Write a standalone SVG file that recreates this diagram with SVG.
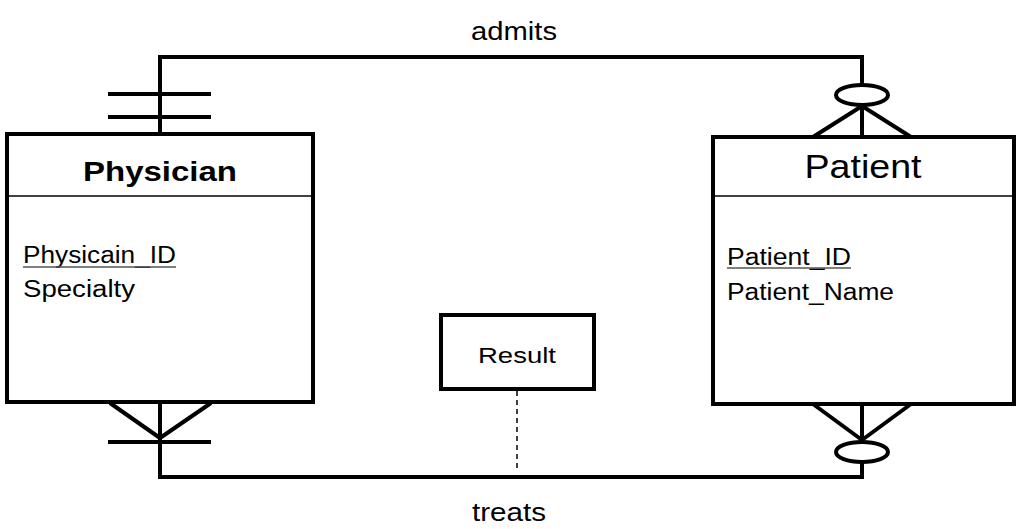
<svg xmlns="http://www.w3.org/2000/svg" width="1024" height="529" viewBox="0 0 1024 529">
<style>
.box{fill:#fff;stroke:#000;stroke-width:4}
.div{stroke:#000;stroke-width:1.5}
.ln{fill:none;stroke:#000;stroke-width:4}
.t{font-family:"Liberation Sans",Arial,sans-serif;fill:#000}
</style>
<rect width="1024" height="529" fill="#fff"/>
<g id="connectors">
<g id="admits">
<polyline class="ln" points="160,134 160,57 862,57 862,85"/>
<line class="ln" x1="108" y1="94" x2="211" y2="94"/>
<line class="ln" x1="108" y1="117" x2="211" y2="117"/>
<ellipse class="ln" cx="862" cy="95" rx="26" ry="10"/>
<line class="ln" x1="862" y1="105" x2="862" y2="137"/>
<line class="ln" x1="862" y1="106" x2="813" y2="137"/>
<line class="ln" x1="862" y1="106" x2="911" y2="137"/>
<text class="t" x="514" y="40" font-size="25" text-anchor="middle" textLength="86" lengthAdjust="spacingAndGlyphs">admits</text>
</g>
<g id="treats">
<polyline class="ln" points="160,402 160,477 862,477 862,462"/>
<line class="ln" x1="108" y1="442" x2="211" y2="442"/>
<line class="ln" x1="110" y1="403" x2="160" y2="438"/>
<line class="ln" x1="211" y1="403" x2="160" y2="438"/>
<ellipse class="ln" cx="862" cy="452" rx="26" ry="10"/>
<line class="ln" x1="862" y1="404" x2="862" y2="442"/>
<line class="ln" x1="813" y1="404" x2="862" y2="440"/>
<line class="ln" x1="911" y1="404" x2="862" y2="440"/>
<line x1="517" y1="391" x2="517" y2="470" stroke="#000" stroke-width="1.5" stroke-dasharray="5,4"/>
<text class="t" x="509" y="521" font-size="25" text-anchor="middle" textLength="74" lengthAdjust="spacingAndGlyphs">treats</text>
</g>
</g>
<g id="physician">
<rect class="box" x="7" y="134" width="306" height="268"/>
<line class="div" x1="7" y1="196" x2="313" y2="196"/>
<text class="t" x="160" y="181" font-size="28" font-weight="bold" text-anchor="middle" textLength="154" lengthAdjust="spacingAndGlyphs">Physician</text>
<text class="t" x="23" y="263" font-size="23" textLength="153" lengthAdjust="spacingAndGlyphs">Physicain_ID</text>
<line x1="23" y1="267" x2="176" y2="267" stroke="#555" stroke-width="1.5"/>
<text class="t" x="23" y="297" font-size="23" textLength="112" lengthAdjust="spacingAndGlyphs">Specialty</text>
</g>
<g id="patient">
<rect class="box" x="713" y="137" width="301" height="267"/>
<line class="div" x1="713" y1="196" x2="1014" y2="196"/>
<text class="t" x="863" y="178" font-size="34" text-anchor="middle" textLength="117" lengthAdjust="spacingAndGlyphs">Patient</text>
<text class="t" x="727" y="265" font-size="23" textLength="124" lengthAdjust="spacingAndGlyphs">Patient_ID</text>
<line x1="727" y1="268" x2="851" y2="268" stroke="#555" stroke-width="1.5"/>
<text class="t" x="727" y="300" font-size="23" textLength="167" lengthAdjust="spacingAndGlyphs">Patient_Name</text>
</g>
<g id="result">
<rect class="box" x="441" y="315" width="153" height="74"/>
<text class="t" x="517" y="363" font-size="22" text-anchor="middle" textLength="78" lengthAdjust="spacingAndGlyphs">Result</text>
</g>
</svg>
